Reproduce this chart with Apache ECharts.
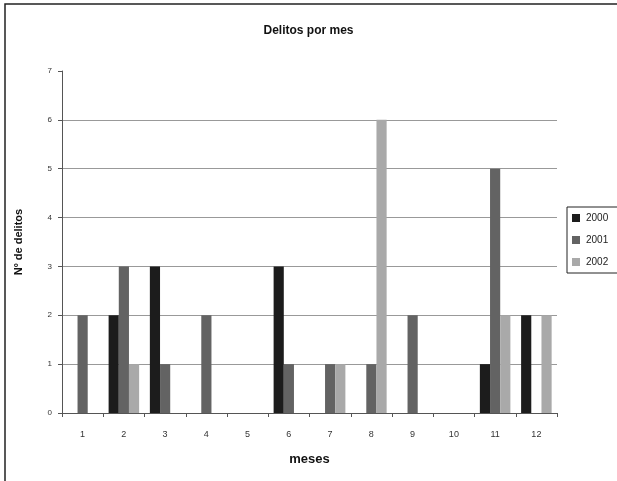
<!DOCTYPE html>
<html>
<head>
<meta charset="utf-8">
<script src="https://cdn.jsdelivr.net/npm/echarts@6/dist/echarts.min.js"></script>
<style>
  html, body { margin: 0; padding: 0; background: #fff; }
  #delitos { width: 617px; height: 481px; }
</style>
</head>
<body>
<div id="delitos"></div>
<script>
const meses = ['1', '2', '3', '4', '5', '6', '7', '8', '9', '10', '11', '12'];
const anos = ['2000', '2001', '2002'];
const d2000 = [0, 2, 3, 0, 0, 3, 0, 0, 0, 0, 1, 2];
const d2001 = [2, 3, 1, 2, 0, 1, 1, 1, 2, 0, 5, 0];
const d2002 = [0, 1, 0, 0, 0, 0, 1, 6, 0, 0, 2, 2];
const colores = ['#1c1c1c', '#636363', '#a9a9a9'];

const myChart = echarts.init(document.getElementById('delitos'));
const fuente = 'Liberation Sans, Arial, sans-serif';

// una serie por año
const datos = [d2000, d2001, d2002];
const series = anos.map(function (a, i) {
  return {
    name: a,
    type: 'bar',
    data: datos[i],
    barGap: '0%',
    barCategoryGap: '26%',
    itemStyle: { color: colores[i] }
  };
});

const option = {
  animation: false,
  textStyle: { fontFamily: fuente },
  title: {
    text: 'Delitos por mes',
    left: 'center',
    top: 20,
    textStyle: { fontSize: 12, fontWeight: 'bold', color: '#111', fontFamily: fuente }
  },
  graphic: [{
    type: 'rect',
    shape: { x: 5, y: 4, width: 700, height: 520 },
    style: { fill: 'none', stroke: '#222', lineWidth: 1.5 },
    silent: true
  }],
  legend: {
    orient: 'vertical',
    left: 567,
    top: 207,
    data: anos,
    itemWidth: 8,
    itemHeight: 8,
    itemGap: 12,
    padding: [6, 20, 6, 5],
    borderColor: '#222',
    borderWidth: 1,
    icon: 'rect',
    textStyle: { fontSize: 10, color: '#222', fontFamily: fuente, padding: [0, 0, 0, 1] }
  },
  grid: { left: 62, right: 60, top: 71, bottom: 68 },
  xAxis: {
    type: 'category',
    data: meses,
    name: 'meses',
    nameLocation: 'middle',
    nameGap: 40,
    nameTextStyle: { fontSize: 13, fontWeight: 'bold', color: '#111' },
    axisLine: { lineStyle: { color: '#555', width: 1 } },
    axisTick: { show: true, length: 4, lineStyle: { color: '#555' } },
    axisLabel: { fontSize: 9, color: '#333', margin: 17 }
  },
  yAxis: {
    type: 'value',
    min: 0,
    max: 7,
    interval: 1,
    name: 'Nº de delitos',
    nameLocation: 'middle',
    nameGap: 38,
    nameTextStyle: { fontSize: 11, fontWeight: 'bold', color: '#111' },
    axisLine: { show: true, lineStyle: { color: '#555', width: 1 } },
    axisTick: { show: true, length: 4, lineStyle: { color: '#555' } },
    axisLabel: { fontSize: 8, color: '#333', margin: 10 },
    splitLine: {
      lineStyle: {
        color: ['#999', '#999', '#999', '#999', '#999', '#999', '#999', 'rgba(0,0,0,0)'],
        width: 1.2
      }
    }
  },
  series: series
};

myChart.setOption(option);
</script>
</body>
</html>
